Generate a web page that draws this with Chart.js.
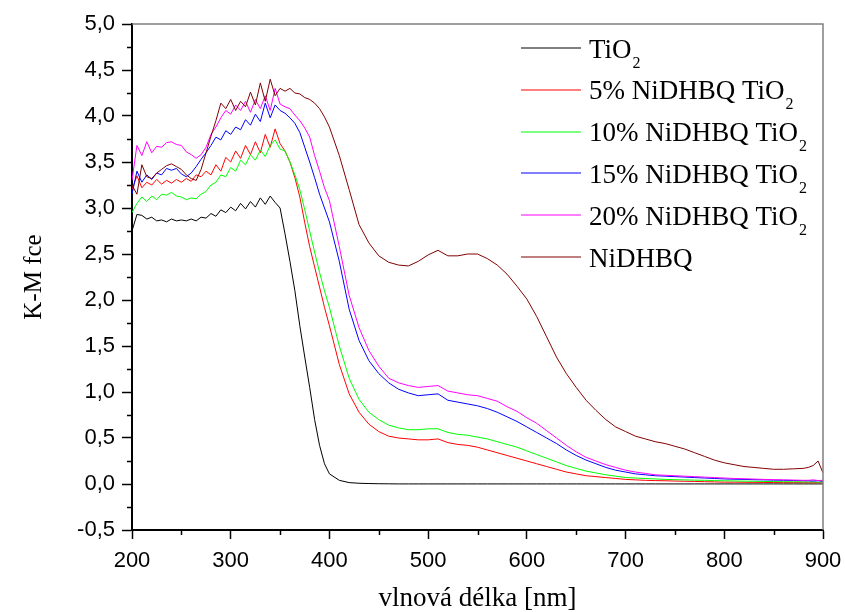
<!DOCTYPE html>
<html>
<head>
<meta charset="utf-8">
<script src="https://cdn.jsdelivr.net/npm/chart.js@4.4.1/dist/chart.umd.min.js"></script>
<style>
  html, body { margin: 0; padding: 0; background: #fff; }
  #wrap { width: 845px; height: 612px; }
</style>
</head>
<body>
<div id="wrap"><canvas id="chart" width="845" height="612"></canvas></div>
<script>
// wavelength grid [nm]
const wavelengths = [
  200, 205, 210, 215, 220, 225, 230, 235, 240, 245,
  250, 255, 260, 265, 270, 275, 280, 285, 290, 295,
  300, 305, 310, 315, 320, 325, 330, 335, 340, 345,
  350, 355, 360, 365, 370, 375, 380, 385, 390, 395,
  400,
  410, 420, 430, 440, 450, 460, 470, 480, 490, 500,
  510, 520, 530, 540, 550, 560, 570, 580, 590, 600,
  610, 620, 630, 640, 650, 660, 670, 680, 690, 700,
  710, 720, 730, 740, 750, 760, 770, 780, 790, 800,
  810, 820, 830, 840, 850, 860, 870, 880,
  885, 890, 895, 900
];

const tio2 = [
  2.75, 2.93, 2.92, 2.88, 2.9, 2.86, 2.87, 2.85, 2.88, 2.86,
  2.87, 2.86, 2.88, 2.86, 2.9, 2.89, 2.94, 2.91, 2.98, 2.95,
  3.01, 2.97, 3.05, 2.99, 3.07, 3.01, 3.11, 3.04, 3.13, 3.06,
  3.0, 2.72, 2.42, 2.1, 1.72, 1.38, 1.05, 0.7, 0.42, 0.22,
  0.11,
  0.04, 0.015, 0.008, 0.005, 0.003, 0.002, 0.001, 0.001, 0.001, 0.001,
  0.001, 0.001, 0.001, 0.001, 0.001, 0.001, 0.001, 0.001, 0.001, 0.001,
  0.001, 0.001, 0.001, 0.001, 0.001, 0.001, 0.001, 0.001, 0.001, 0.001,
  0.001, 0.001, 0.001, 0.001, 0.001, 0.001, 0.001, 0.001, 0.001, 0.001,
  0.001, 0.001, 0.001, 0.001, 0.001, 0.001, 0.001, 0.001,
  0.001, 0.001, 0.001, 0.001
];

const ni5 = [
  3.2, 3.35, 3.22, 3.28, 3.25, 3.31, 3.26, 3.3, 3.27, 3.31,
  3.28, 3.32, 3.29, 3.36, 3.34, 3.4, 3.36, 3.47, 3.4, 3.55,
  3.5, 3.62, 3.54, 3.68, 3.58, 3.72, 3.6, 3.8, 3.66, 3.86,
  3.7, 3.62, 3.5, 3.33, 3.12, 2.84, 2.58, 2.36, 2.14, 1.92,
  1.72,
  1.3, 0.98, 0.78, 0.65, 0.57, 0.52, 0.5, 0.49, 0.48, 0.48,
  0.49, 0.45, 0.43, 0.42, 0.4, 0.37, 0.34, 0.31, 0.28, 0.25,
  0.22, 0.19, 0.16, 0.13, 0.11, 0.09, 0.08, 0.07, 0.06, 0.05,
  0.045, 0.04, 0.037, 0.035, 0.032, 0.03, 0.028, 0.025, 0.023, 0.02,
  0.02, 0.019, 0.018, 0.017, 0.016, 0.015, 0.015, 0.014,
  0.014, 0.013, 0.015, 0.012
];

const ni10 = [
  2.95, 3.05, 3.12, 3.07, 3.13, 3.09, 3.15, 3.14, 3.17, 3.13,
  3.12, 3.09, 3.11, 3.1, 3.15, 3.18, 3.25, 3.28, 3.36, 3.34,
  3.44, 3.4, 3.52, 3.47, 3.58, 3.52, 3.63, 3.56, 3.68, 3.74,
  3.64, 3.62, 3.5, 3.36, 3.2, 2.98, 2.75, 2.52, 2.3, 2.1,
  1.92,
  1.5, 1.15, 0.92, 0.78, 0.7, 0.64, 0.61, 0.59, 0.59, 0.6,
  0.6, 0.56, 0.54, 0.53, 0.51, 0.49, 0.46, 0.43, 0.4, 0.36,
  0.32, 0.28, 0.24, 0.2, 0.17, 0.14, 0.12, 0.1, 0.085, 0.07,
  0.065, 0.06, 0.055, 0.05, 0.047, 0.045, 0.042, 0.04, 0.037, 0.035,
  0.033, 0.031, 0.03, 0.028, 0.026, 0.025, 0.024, 0.023,
  0.022, 0.024, 0.02, 0.022
];

const ni15 = [
  3.15, 3.4, 3.28, 3.36, 3.31, 3.38, 3.36, 3.43, 3.41, 3.43,
  3.37, 3.34, 3.38, 3.45, 3.53, 3.6, 3.68, 3.77, 3.74, 3.84,
  3.8, 3.88, 3.85, 3.96, 3.9, 4.02, 3.94, 4.14, 3.98, 4.12,
  4.06, 4.03, 3.98, 3.92, 3.82, 3.66, 3.5, 3.33, 3.15, 3.0,
  2.85,
  2.42, 1.9, 1.56, 1.34, 1.2, 1.1, 1.03, 0.99, 0.96, 0.97,
  0.98, 0.91, 0.89, 0.87, 0.85, 0.82, 0.78, 0.73, 0.68, 0.62,
  0.56, 0.5, 0.44, 0.37, 0.31, 0.26, 0.22, 0.18, 0.15, 0.13,
  0.11, 0.1, 0.09, 0.085, 0.08, 0.075, 0.07, 0.065, 0.06, 0.055,
  0.052, 0.05, 0.047, 0.045, 0.042, 0.04, 0.038, 0.036,
  0.035, 0.033, 0.036, 0.03
];

const ni20 = [
  3.3, 3.68, 3.57, 3.72, 3.6, 3.67, 3.66, 3.71, 3.72, 3.69,
  3.68, 3.61, 3.58, 3.54, 3.58, 3.66, 3.8, 3.88, 3.98, 4.06,
  4.02, 4.12, 4.06, 4.16, 4.04, 4.18, 4.08, 4.22, 4.06, 4.3,
  4.13, 4.1, 4.08, 4.01, 3.95, 3.87, 3.77, 3.57, 3.4, 3.22,
  3.08,
  2.58, 2.05, 1.7, 1.45, 1.28, 1.15, 1.1, 1.07, 1.05, 1.06,
  1.07, 1.01, 0.99, 0.97, 0.96, 0.93, 0.9, 0.84, 0.79, 0.72,
  0.66, 0.58, 0.5, 0.42, 0.35, 0.29, 0.25, 0.21, 0.18, 0.15,
  0.13, 0.115, 0.1, 0.095, 0.09, 0.085, 0.08, 0.075, 0.07, 0.065,
  0.06, 0.057, 0.054, 0.05, 0.047, 0.045, 0.043, 0.04,
  0.04, 0.045, 0.038, 0.04
];

const nidhbq = [
  3.25, 3.15, 3.47, 3.34, 3.32, 3.38, 3.42, 3.46, 3.48, 3.45,
  3.42, 3.36, 3.32, 3.3, 3.42, 3.6, 3.78, 3.95, 4.14, 4.08,
  4.18, 4.06, 4.16, 4.1, 4.26, 4.12, 4.36, 4.16, 4.4, 4.22,
  4.3, 4.27, 4.3, 4.25, 4.24, 4.2, 4.18, 4.14, 4.08, 3.99,
  3.88,
  3.57, 3.2, 2.82, 2.62, 2.48, 2.41, 2.38, 2.37, 2.42, 2.49,
  2.54, 2.48, 2.48, 2.5, 2.5, 2.45, 2.38, 2.28, 2.15, 2.01,
  1.82, 1.6, 1.38, 1.2, 1.05, 0.91, 0.8, 0.7, 0.62, 0.57,
  0.52, 0.49, 0.46, 0.44, 0.41, 0.38, 0.34, 0.3, 0.26, 0.23,
  0.21, 0.19, 0.18, 0.17, 0.16, 0.16, 0.165, 0.17,
  0.18, 0.2, 0.25, 0.12
];

const seriesNames = ['TiO2', '5% NiDHBQ TiO2', '10% NiDHBQ TiO2', '15% NiDHBQ TiO2', '20% NiDHBQ TiO2', 'NiDHBQ'];
const seriesColors = ['#000000', '#ff0000', '#00ff00', '#0000ff', '#ff00ff', '#800000'];
const seriesValues = [tio2, ni5, ni10, ni15, ni20, nidhbq];

const serif = '"Liberation Serif", "Times New Roman", serif';
const sans = '"Liberation Sans", Arial, sans-serif';

// frame (gray top/right) and minor ticks
const framePlugin = {
  id: 'frame',
  afterDraw(chart) {
    const ctx = chart.ctx;
    const a = chart.chartArea;
    const xs = chart.scales.x, ys = chart.scales.y;
    ctx.save();
    ctx.strokeStyle = '#808080';
    ctx.lineWidth = 1.5;
    ctx.beginPath();
    ctx.moveTo(a.left, a.top);
    ctx.lineTo(a.right, a.top);
    ctx.lineTo(a.right, a.bottom);
    ctx.stroke();

    ctx.strokeStyle = '#000';
    ctx.lineWidth = 1.5;
    ctx.beginPath();
    for (let v = xs.min + 50; v < xs.max; v += 100) {
      const px = Math.round(xs.getPixelForValue(v)) + 0.5;
      ctx.moveTo(px, a.bottom);
      ctx.lineTo(px, a.bottom + 5);
    }
    for (let v = ys.min + 0.25; v < ys.max; v += 0.5) {
      const py = Math.round(ys.getPixelForValue(v)) + 0.5;
      ctx.moveTo(a.left, py);
      ctx.lineTo(a.left - 5, py);
    }
    ctx.stroke();
    ctx.restore();
  }
};

// legend with subscripts
const legendPlugin = {
  id: 'subLegend',
  afterDraw(chart) {
    const ctx = chart.ctx;
    const a = chart.chartArea;
    const x0 = a.left + 389, x1 = a.left + 449, tx = a.left + 457;
    const y0 = a.top + 24, dy = 41.8;
    ctx.save();
    seriesNames.forEach((name, i) => {
      const y = y0 + i * dy;
      ctx.strokeStyle = seriesColors[i];
      ctx.lineWidth = 1;
      ctx.beginPath();
      ctx.moveTo(x0, Math.round(y));
      ctx.lineTo(x1, Math.round(y));
      ctx.stroke();

      ctx.fillStyle = '#000';
      ctx.textAlign = 'left';
      ctx.textBaseline = 'alphabetic';
      let main = name, sub = '';
      if (name.endsWith('TiO2')) { main = name.slice(0, -1); sub = '2'; }
      ctx.font = '27px ' + serif;
      ctx.fillText(main, tx, y + 9.5);
      if (sub) {
        const w = ctx.measureText(main).width;
        ctx.font = '16px ' + serif;
        ctx.fillText(sub, tx + w + 1, y + 19.5);
      }
    });
    ctx.restore();
  }
};

const ctx = document.getElementById('chart').getContext('2d');
new Chart(ctx, {
  type: 'line',
  data: {
    labels: wavelengths,
    datasets: seriesNames.map((name, i) => ({
      label: name,
      data: wavelengths.map((w, k) => ({ x: w, y: seriesValues[i][k] })),
      borderColor: seriesColors[i],
      backgroundColor: seriesColors[i],
      borderWidth: 1,
      pointRadius: 0,
      tension: 0,
      fill: false,
      order: seriesNames.length - i
    }))
  },
  options: {
    responsive: false,
    animation: false,
    devicePixelRatio: 1,
    layout: { padding: { top: 24, right: 22, left: 0, bottom: 0 } },
    plugins: {
      legend: { display: false },
      tooltip: { enabled: false }
    },
    scales: {
      x: {
        type: 'linear',
        min: 200,
        max: 900,
        afterFit: (scale) => {
          scale.height = 82;
          scale.paddingLeft = 0;
          scale.paddingRight = 0;
        },
        ticks: {
          stepSize: 100,
          padding: 9,
          color: '#000',
          font: { family: sans, size: 22 },
          maxRotation: 0,
          callback: (v) => String(v)
        },
        grid: { display: true, drawOnChartArea: false, drawTicks: true, tickLength: 9, tickWidth: 1.5, tickColor: '#000' },
        border: { display: true, color: '#000', width: 2 },
        title: {
          display: true,
          text: 'vlnová délka [nm]',
          color: '#000',
          font: { family: serif, size: 27, lineHeight: 1.0 },
          padding: { top: 0, bottom: 0 }
        }
      },
      y: {
        min: -0.5,
        max: 5.0,
        afterFit: (scale) => {
          scale.width = 132;
          scale.paddingTop = 0;
          scale.paddingBottom = 0;
        },
        ticks: {
          stepSize: 0.5,
          padding: 7,
          color: '#000',
          font: { family: sans, size: 22 },
          callback: (v) => v.toFixed(1).replace('.', ',')
        },
        grid: { display: true, drawOnChartArea: false, drawTicks: true, tickLength: 10, tickWidth: 1.5, tickColor: '#000' },
        border: { display: true, color: '#000', width: 2 },
        title: {
          display: true,
          text: 'K-M fce',
          color: '#000',
          font: { family: serif, size: 25, lineHeight: 1.0 },
          padding: { top: 22, bottom: 0 }
        }
      }
    }
  },
  plugins: [framePlugin, legendPlugin]
});
</script>
</body>
</html>
